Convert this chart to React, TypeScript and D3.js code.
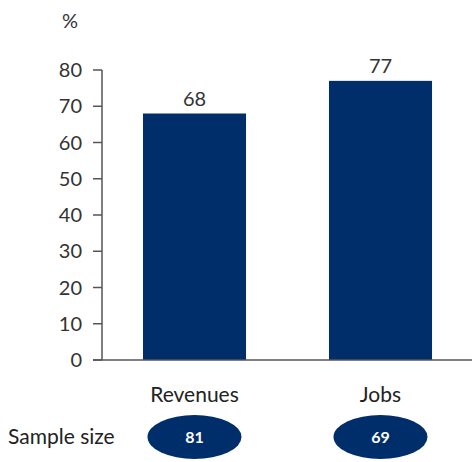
import React from 'react';
import * as d3 from 'd3';

const categories = ['Revenues', 'Jobs'];
const values = [68, 77];
const sampleSizes = [81, 69];
const yTicks = [0, 10, 20, 30, 40, 50, 60, 70, 80];

const W = 474;
const H = 462;
const NAVY = '#002e6b';
const FONT = 'Lato, "Open Sans", sans-serif';

const App: React.FC = () => {
  const y = d3.scaleLinear().domain([0, 80]).range([360, 70]);
  const x = d3
    .scaleBand<string>()
    .domain(categories)
    .range([101.5, 473.5])
    .paddingInner(0.446)
    .paddingOuter(0.223);

  const axisX = 102;

  return (
    <svg
      width={W}
      height={H}
      style={{ position: 'absolute', left: 0, top: 0, background: '#fff' }}
      fontFamily={FONT}
    >
      <text x={70} y={28} fontSize={20} fill="#333" textAnchor="middle">%</text>

      {/* y axis */}
      <line x1={axisX} x2={axisX} y1={y(80)} y2={y(0)} stroke="#555" strokeWidth={1.5} />
      {yTicks.map((t) => (
        <g key={t}>
          <line x1={93} x2={axisX} y1={y(t)} y2={y(t)} stroke="#555" strokeWidth={1.5} />
          <text x={82} y={y(t)} dy="0.35em" fontSize={20} fill="#333" textAnchor="end">
            {t}
          </text>
        </g>
      ))}

      {/* bars */}
      {categories.map((c, i) => (
        <g key={c}>
          <rect
            x={x(c)}
            y={y(values[i])}
            width={x.bandwidth()}
            height={y(0) - y(values[i])}
            fill={NAVY}
          />
          <text
            x={(x(c) || 0) + x.bandwidth() / 2}
            y={y(values[i]) - 8}
            fontSize={20}
            fill="#333"
            textAnchor="middle"
          >
            {values[i]}
          </text>
        </g>
      ))}

      {/* baseline */}
      <line x1={93} x2={472} y1={y(0)} y2={y(0)} stroke="#555" strokeWidth={1.5} />

      {/* category labels */}
      {categories.map((c) => (
        <text
          key={c}
          x={(x(c) || 0) + x.bandwidth() / 2}
          y={402}
          fontSize={21}
          fill="#222"
          textAnchor="middle"
        >
          {c}
        </text>
      ))}

      {/* sample size */}
      <text x={8} y={444} fontSize={21} fill="#222">Sample size</text>
      {categories.map((c, i) => {
        const cx = (x(c) || 0) + x.bandwidth() / 2;
        return (
          <g key={`s-${c}`}>
            <ellipse cx={cx} cy={437} rx={47} ry={22} fill={NAVY} />
            <text
              x={cx}
              y={437}
              dy="0.35em"
              fontSize={16}
              fontWeight="bold"
              fill="#fff"
              textAnchor="middle"
            >
              {sampleSizes[i]}
            </text>
          </g>
        );
      })}
    </svg>
  );
};

export default App;
